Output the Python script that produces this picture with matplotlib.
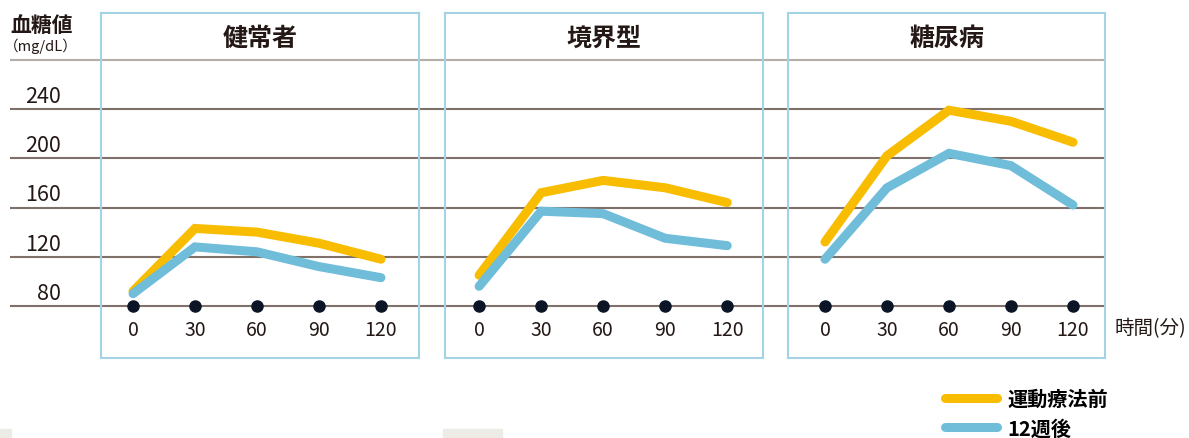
import numpy as np
import matplotlib as mpl
mpl.use("Agg")
import matplotlib.pyplot as plt
from matplotlib.transforms import blended_transform_factory, offset_copy
from matplotlib.patches import Rectangle

plt.rcParams["font.family"] = ["Noto Sans CJK JP", "DejaVu Sans"]

# data
minutes = [0, 30, 60, 90, 120]
groups = ["健常者", "境界型", "糖尿病"]
before = [[92, 143, 140, 131, 118],
          [105, 172, 182, 176, 164],
          [132, 202, 239, 230, 213]]
after12w = [[90, 128, 124, 112, 103],
            [96, 157, 155, 135, 129],
            [118, 176, 204, 194, 162]]
series_names = ["運動療法前", "12週後"]
y_ticks = [80, 120, 160, 200, 240]

C_YEL = "#F8BC00"
C_BLU = "#70BDDA"
C_GRID = "#7f716a"
C_TOP = "#b4aea9"
C_BOX = "#a3d3e5"
C_TXT = "#231815"

W, H = 1189, 439
fig = plt.figure(figsize=(W / 100, H / 100), dpi=100)

def frac(x0, y0, x1, y1):
    return [x0 / W, 1 - y1 / H, (x1 - x0) / W, (y1 - y0) / H]

YLIM = (80 - 52 * 40 / 49.25, 80 + 293 * 40 / 49.25)

# background axes with the full-width rules
bg = fig.add_axes(frac(10, 14, 1106, 359))
bg.set_xlim(0, 1)
bg.set_ylim(*YLIM)
bg.axis("off")
for v in y_ticks:
    bg.axhline(v, color=C_GRID, lw=1.5, zorder=0)
bg.axhline(280, color=C_TOP, lw=1.5, zorder=0)

tr = offset_copy(blended_transform_factory(fig.transFigure, bg.transData), fig=fig, x=0, y=2, units="dots")
for v in y_ticks:
    fig.text(61 / W, v, str(v), transform=tr, ha="right", va="bottom", fontsize=15.5, color=C_TXT)

# panels: (left px, right px, xlim)
panels = [(101, 419, (-15.5, 138.4)), (445, 763, (-16.5, 137.3)), (788, 1105, (-17.9, 135.5))]
lines = []
for k, (x0, x1, xl) in enumerate(panels):
    ax = fig.add_axes(frac(x0, 14, x1, 359))
    ax.set_facecolor("none")
    ax.set_xlim(*xl)
    ax.set_ylim(*YLIM)
    ax.set_xticks([]); ax.set_yticks([])
    for s in ax.spines.values():
        s.set_color(C_BOX); s.set_linewidth(1.5)
    l1, = ax.plot(minutes, before[k], color=C_YEL, lw=6.5, solid_capstyle="round", solid_joinstyle="miter")
    l2, = ax.plot(minutes, after12w[k], color=C_BLU, lw=6.5, solid_capstyle="round", solid_joinstyle="miter")
    lines = [l1, l2]
    ax.plot(minutes, [80] * len(minutes), "o", color="#0b1526", ms=8, zorder=5, clip_on=False)
    ltr = offset_copy(ax.transData, fig=fig, x=0, y=-24, units="dots")
    for m in minutes:
        ax.text(m, 80, str(m), transform=ltr, ha="center", va="center", fontsize=14, color=C_TXT)
    ax.text(0.5, 1 - 25 / 345, groups[k], transform=ax.transAxes, ha="center", va="center",
            fontsize=18, fontweight="bold", color=C_TXT)

fig.text(10 / W, 1 - 26 / H, "血糖値", ha="left", va="center", fontsize=15, fontweight="bold", color=C_TXT)
fig.text(4 / W, 1 - 46 / H, "（mg/dL）", ha="left", va="center", fontsize=10.5, color=C_TXT)
fig.text(1114 / W, 1 - 329 / H, "時間(分)", ha="left", va="center", fontsize=14, color=C_TXT)

fig.legend(lines, series_names, loc="upper left", bbox_to_anchor=(945 / W, 1 - 389 / H),
           frameon=False, handlelength=2.6, handletextpad=0.5, labelspacing=0.42,
           prop={"size": 14.5, "weight": "bold"}, borderaxespad=0, borderpad=0)

# cropped page fragments at the bottom edge
fig.patches.append(Rectangle((0, 0), 11 / W, 9 / H, transform=fig.transFigure, color="#ecebe6"))
fig.patches.append(Rectangle((443 / W, 0), 59 / W, 9 / H, transform=fig.transFigure, color="#ecebe6"))

fig.savefig("out.png", dpi=100)
